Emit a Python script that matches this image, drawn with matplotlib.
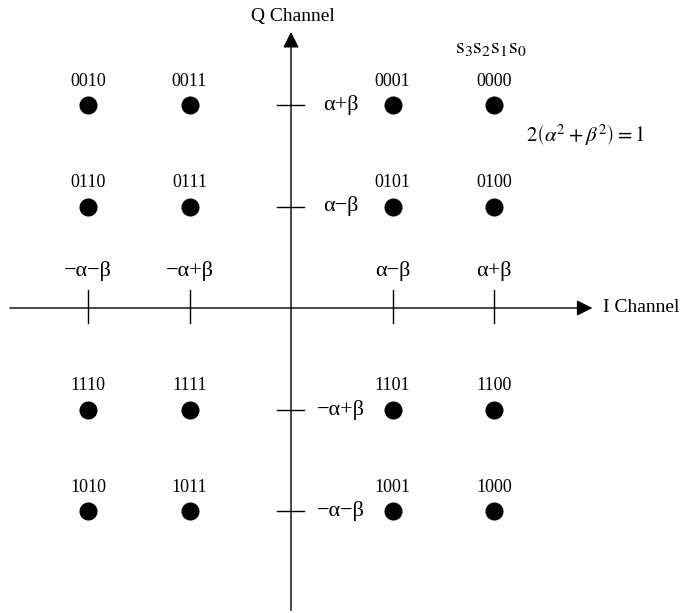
import numpy as np
from matplotlib import pyplot as plt

plt.rcParams['font.family'] = ['Liberation Serif', 'DejaVu Serif']
plt.rcParams['mathtext.fontset'] = 'stix'

# constellation levels (in units of beta, alpha = 1.5 beta)
levels = [-2, -1, 1, 2]
level_labels = ['\u2212\u03b1\u2212\u03b2', '\u2212\u03b1+\u03b2', '\u03b1\u2212\u03b2', '\u03b1+\u03b2']
# bit labels, rows from top (Q = +2) to bottom (Q = -2), columns I = -2..2
bits = [['0010', '0011', '0001', '0000'],
        ['0110', '0111', '0101', '0100'],
        ['1110', '1111', '1101', '1100'],
        ['1010', '1011', '1001', '1000']]
q_rows = [2, 1, -1, -2]

u = 101.5  # pixels per unit
fig = plt.figure(figsize=(6.86, 6.13), dpi=100)
ax = fig.add_axes([0, 0, 1, 1])
ax.set_xlim(-291 / u, (686 - 291) / u)
ax.set_ylim(-(613 - 308) / u, 308 / u)
ax.axis('off')

# axes with arrows
ax.annotate('', xy=(2.97, 0), xytext=(-2.77, 0),
            arrowprops=dict(arrowstyle='-|>', mutation_scale=24, color='black', lw=1, shrinkA=0, shrinkB=0))
ax.annotate('', xy=(0, 2.72), xytext=(0, -2.98),
            arrowprops=dict(arrowstyle='-|>', mutation_scale=24, color='black', lw=1, shrinkA=0, shrinkB=0))
ax.text(3.07, 0, 'I Channel', ha='left', va='center', fontsize=14)
ax.text(0.02, 2.87, 'Q Channel', ha='center', va='center', fontsize=14)

# tick marks and labels
for lv, lab in zip(levels, level_labels):
    ax.plot([lv, lv], [-0.15, 0.18], color='black', lw=1)
    ax.text(lv, 0.36, lab, ha='center', va='center', fontsize=16)
    ax.plot([-0.14, 0.13], [lv, lv], color='black', lw=1)
    ax.text(0.49, lv, lab, ha='center', va='center', fontsize=16)

# constellation points
for q, row in zip(q_rows, bits):
    for i, b in zip(levels, row):
        ax.plot(i, q, 'o', color='black', markersize=12)
        ax.text(i, q + 0.235, b, ha='center', va='center', fontsize=13)

ax.text(1.97, 2.56, r'$\mathrm{s_3s_2s_1s_0}$', ha='center', va='center', fontsize=16)
ax.text(2.9, 1.70, r'$2\left(\alpha^2+\beta^2\right)=1$', ha='center', va='center', fontsize=15)

fig.savefig('out.png', dpi=100)
